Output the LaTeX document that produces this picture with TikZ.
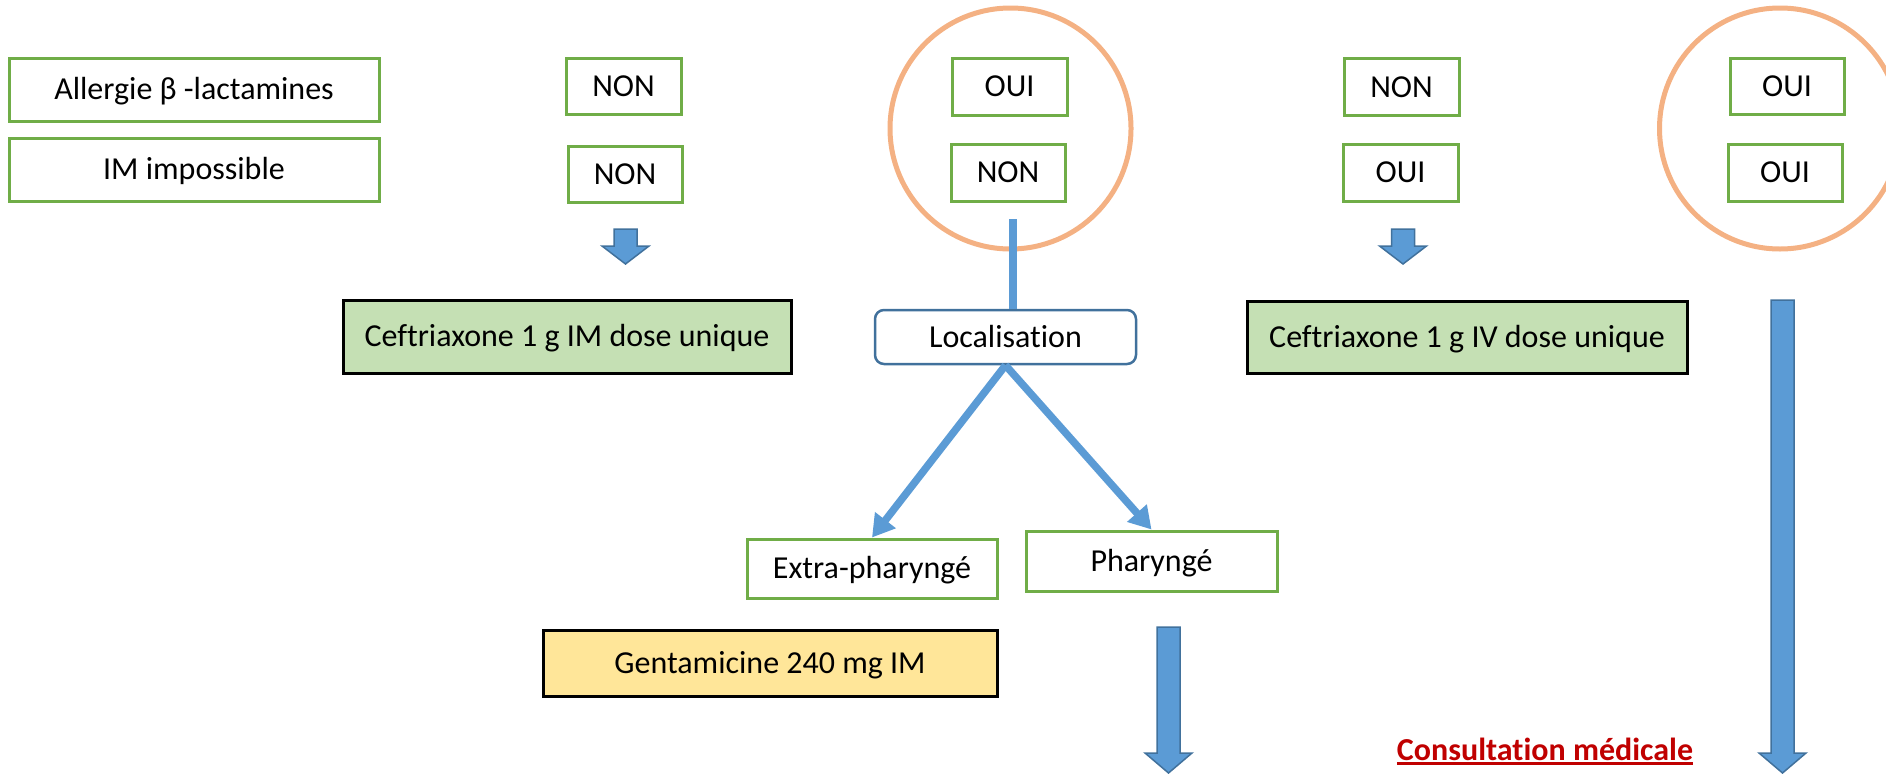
\documentclass[tikz,border=0pt]{standalone}
\usepackage{fontspec}
\setmainfont{Carlito}[Ligatures=NoCommon]
\usetikzlibrary{arrows.meta}

\definecolor{boxgreen}{HTML}{70AD47}
\definecolor{fillgreen}{HTML}{C5E0B4}
\definecolor{fillyellow}{HTML}{FFE699}
\definecolor{ringorange}{HTML}{F4B183}
\definecolor{arrowblue}{HTML}{5B9BD5}
\definecolor{edgeblue}{HTML}{41719C}
\definecolor{alertred}{HTML}{C00000}

\tikzset{
  every node/.style={font=\fontsize{32}{38}\selectfont, inner sep=0pt,
    text height=20.6pt, text depth=0pt},
  choice/.style={draw=boxgreen, line width=3pt, fill=white},
  drug/.style={draw=black, line width=3pt},
  place/.style={draw=edgeblue, line width=2.5pt, rounded corners=9pt, fill=white},
  ring/.style={draw=ringorange, line width=5pt},
  flow/.style={draw=arrowblue, line width=7.5pt, -{Triangle[length=22pt,width=25pt]}},
  stem/.style={draw=arrowblue, line width=8pt},
  blockarrow/.style={fill=arrowblue, draw=edgeblue, line width=1.5pt, line join=miter},
}

% downward block arrow: centre x, top of shaft, start of head, tip
\newcommand\downblock[4]{%
  \filldraw[blockarrow] ({#1-11.5},#2) -- ({#1+11.5},#2) -- ({#1+11.5},#3)
    -- ({#1+23.5},#3) -- (#1,#4) -- ({#1-23.5},#3) -- ({#1-11.5},#3) -- cycle;}

\begin{document}
\begin{tikzpicture}[x=1pt, y=-1pt]
  \useasboundingbox (0,0) rectangle (1886,774);
  \clip (0,0) rectangle (1886,774);

  % criteria
  \node[choice, minimum width=370pt, minimum height=63pt] (allergy) at (194,89.5) {Allergie β -lactamines};
  \node[choice, minimum width=370pt, minimum height=63pt] (imposs) at (194,169.5) {IM impossible};

  % case 1: NON / NON
  \node[choice, minimum width=115pt, minimum height=56pt] (nonA1) at (623.5,86) {NON};
  \node[choice, minimum width=114pt, minimum height=56pt] (nonA2) at (625,174) {NON};
  \downblock{625.5}{229}{246}{264}
  \node[drug, fill=fillgreen, minimum width=448pt, minimum height=73pt] (ceftIM) at (567,336.5) {Ceftriaxone 1 g IM dose unique};

  % case 2: OUI / NON
  \draw[ring] (1010.5,128.5) circle[radius=120.5pt];
  \node[choice, minimum width=115pt, minimum height=57pt] (ouiB1) at (1009.5,86.5) {OUI};
  \node[choice, minimum width=114pt, minimum height=57pt] (nonB2) at (1008,172.5) {NON};
  \node[place, minimum width=261pt, minimum height=54pt] (loc) at (1005.5,337) {Localisation};
  \coordinate (stemtop) at (1013,219);
  \draw[stem] (stemtop) -- (stemtop |- loc.north);
  \node[choice, minimum width=250pt, minimum height=59pt] (extra) at (872,568.5) {Extra-pharyngé};
  \node[choice, minimum width=251pt, minimum height=60pt] (phar) at (1151.5,561) {Pharyngé};
  \draw[flow] (loc.south) -- (extra.north);
  \draw[flow] (loc.south) -- (phar.north);
  \node[drug, fill=fillyellow, minimum width=454pt, minimum height=66pt] (genta) at (770,663) {Gentamicine 240 mg IM};
  \downblock{1168.5}{627}{753}{773}

  % case 3: NON / OUI
  \node[choice, minimum width=115pt, minimum height=57pt] (nonC1) at (1401.5,87) {NON};
  \node[choice, minimum width=115pt, minimum height=57pt] (ouiC2) at (1400.5,172.5) {OUI};
  \downblock{1403}{229}{246}{264}
  \node[drug, fill=fillgreen, minimum width=440pt, minimum height=72pt] (ceftIV) at (1467,337) {Ceftriaxone 1 g IV dose unique};

  % case 4: OUI / OUI
  \draw[ring] (1780,128.5) circle[radius=120.5pt];
  \node[choice, minimum width=114pt, minimum height=56pt] (ouiD1) at (1787,86) {OUI};
  \node[choice, minimum width=114pt, minimum height=57pt] (ouiD2) at (1785,172.5) {OUI};
  \downblock{1782.5}{300}{753}{773}

  % outcome
  \node[anchor=base, text=alertred, font=\fontsize{32}{38}\selectfont\bfseries] (consult) at (1545,760) {Consultation médicale};
  \draw[alertred, line width=2.2pt] ([yshift=-3.5pt]consult.base west) -- ([yshift=-3.5pt]consult.base east);
\end{tikzpicture}
\end{document}
